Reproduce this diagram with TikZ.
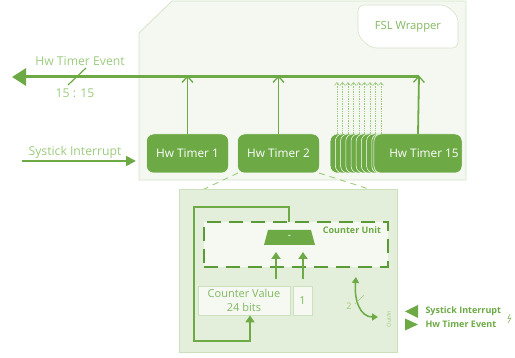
\documentclass[tikz,border=0pt]{standalone}
\usepackage{fontspec}
\setmainfont{Open Sans}
\usetikzlibrary{arrows.meta}
\definecolor{gmain}{HTML}{6DAA45}
\definecolor{gdark}{HTML}{5B9B37}
\definecolor{glabel}{HTML}{9CCB7E}
\definecolor{gtext}{HTML}{82B862}
\definecolor{gpale}{HTML}{F4F8F1}
\definecolor{gpaleb}{HTML}{D3E4C8}
\definecolor{glow}{HTML}{E3EFDB}
\definecolor{glowb}{HTML}{CBE0BD}
\definecolor{gcu}{HTML}{F5F9F2}
\begin{document}
\begin{tikzpicture}[x=1pt,y=-1pt,
  timer/.style={fill=gmain,draw=white,line width=0.5pt,rounded corners=7pt,
    minimum width=82pt,minimum height=39pt,text=white,font=\fontsize{11.8}{14}\selectfont},
  lbl/.style={text=glabel,font=\fontsize{12.2}{14}\selectfont},
  uparrow/.style={draw=gmain,line width=1.8pt,-{Straight Barb[length=6pt,width=11pt,line width=1.3pt]}},
  solidtip/.style={draw=gmain,line width=1.8pt,-{Triangle[length=7pt,width=9pt]}},
  valbox/.style={fill=gcu,draw=glowb,line width=0.8pt,text=gtext,
    font=\fontsize{11}{13.5}\selectfont,align=center,minimum height=29pt,inner sep=1pt},
  legtext/.style={text=gmain,font=\bfseries\fontsize{9}{11}\selectfont,anchor=west}]
\path[use as bounding box] (0,0) rectangle (515,358);

% wrapper panel with cut corner
\draw[fill=gpale,draw=gpaleb,line width=0.8pt]
  (139,33) -- (172,1) -- (466,1) -- (466,180) -- (139,180) -- cycle;

% FSL Wrapper tag
\draw[fill=white,draw=gpaleb,line width=0.6pt,rounded corners=6pt]
  (358,5) -- (446,5) -- (458,16) -- (458,48) -- (371,48) -- (358,36) -- cycle;
\node[text=gtext,font=\fontsize{11.2}{13}\selectfont] (fsl) at (408,27) {FSL Wrapper};

% stacked timer boxes behind timer 15
\foreach \i in {9,...,1}
  \draw[fill=gmain,draw=white,line width=0.5pt,rounded corners=7pt]
    (377-5.2*\i,134) rectangle (459-5.2*\i,173);

% timers
\node[timer] (t1) at (187.5,153.5) {Hw Timer 1};
\node[timer] (t2) at (278.5,153.5) {Hw Timer 2};
\node[timer,minimum width=83pt] (t15) at (418,153.5) {\hspace*{12pt}Hw Timer 15};

% event bus
\coordinate (busL) at (12,77);
\coordinate (busR) at (419,77);
\draw[draw=gmain,line width=3pt,-{Triangle[length=14pt,width=17pt]}] (busR) -- (busL);

% timer outputs onto the bus
\draw[uparrow] (t1.north) -- ([yshift=1.5pt]t1.north |- busL);
\draw[uparrow] (t2.north) -- ([yshift=1.5pt]t2.north |- busL);
\draw[uparrow] (418,134) -- ([yshift=1.5pt]busR);
\foreach \i in {0,...,8}
  \draw[draw=glabel,line width=0.7pt,densely dotted,
        -{Straight Barb[length=3pt,width=5pt,line width=0.6pt]}]
    (337+5.5*\i,134) -- (337+5.5*\i,82);

% bus labels
\node[lbl] (hte) at (80,61) {Hw Timer Event};
\draw[draw=gmain,line width=1.2pt] (68,85) -- (86,68);
\node[lbl] (width) at (75,93) {15 : 15};

% systick input
\node[lbl] (sys) at (75,152) {Systick Interrupt};
\coordinate (sysA) at (22,161);
\coordinate (sysB) at (136,161);
\draw[draw=gmain,line width=1.8pt,-{Triangle[length=10pt,width=10pt]}] (sysA) -- (sysB);

% zoom guide lines
\draw[draw=glabel,line width=0.9pt,dash pattern=on 6pt off 5pt] (238,173) -- (200,191);
\draw[draw=glabel,line width=0.9pt,dash pattern=on 6pt off 5pt] (319,173) -- (375,191);

% detail panel
\draw[fill=glow,draw=glowb,line width=0.8pt] (179,189) rectangle (397,352);

% counter unit
\node[draw=gdark,fill=gcu,line width=1.6pt,dash pattern=on 14pt off 8pt,
      minimum width=184pt,minimum height=45pt,inner sep=0pt] (cu) at (296,244.5) {};
\node[text=gmain,font=\bfseries\fontsize{9}{11}\selectfont] (cul) at (352,230) {Counter Unit};
\fill[gmain] (264,245) -- (268,230) -- (311,230) -- (315,245) -- cycle;
\node[text=white,font=\fontsize{10}{12}\selectfont] (sub) at (289.5,237) {-};

% operands
\node[valbox,minimum width=92pt] (cv) at (244,300.5) {Counter Value\\24 bits};
\node[valbox,minimum width=19pt] (one) at (302.5,300.5) {1};
\coordinate (in1) at (276,252);
\coordinate (in2) at (303,252);
\draw[solidtip] (276,279) -- (in1);
\draw[solidtip] (303,279) -- (in2);

% feedback path
\draw[draw=gmain,line width=1.5pt,-{Triangle[length=7pt,width=9pt]}]
  (289,222) -- (289,207) -- (194,207) -- (194,341) -- (250,341) -- (cv.south -| 250,0);

% out/in port
\coordinate (pTop) at (356,277);
\coordinate (pRight) at (378,317);
\draw[draw=gmain,line width=1.5pt,{Triangle[length=6pt,width=7pt]}-{Triangle[length=6pt,width=7pt]}]
  (pTop) .. controls (354,300) and (360,317) .. (pRight);
\draw[draw=glabel,line width=0.6pt] (355,304) -- (364,295);
\node[text=glabel,font=\fontsize{9}{10}\selectfont] (two) at (349,306) {2};
\node[text=glabel,font=\fontsize{5.5}{7}\selectfont,rotate=90] (oi) at (389,319) {Out/In};

% legend
\fill[gmain] (405,311.5) -- (418,305) -- (418,318) -- cycle;
\fill[gmain] (418,324.5) -- (405,318.5) -- (405,330.5) -- cycle;
\node[legtext] (lsys) at (422,311) {Systick Interrupt};
\node[legtext] (lhte) at (422,324.5) {Hw Timer Event};
\draw[draw=gmain,line width=0.5pt] (510,314) -- (508,318.5) -- (511,318) -- (508,323);
\end{tikzpicture}
\end{document}
